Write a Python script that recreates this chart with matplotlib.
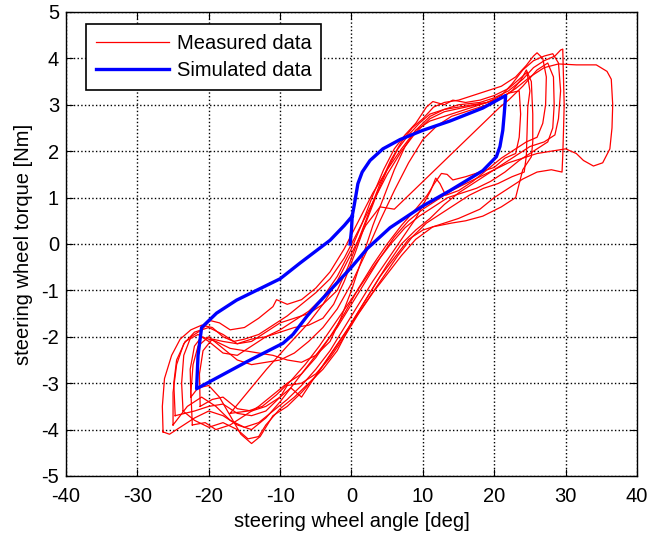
import numpy as np
import matplotlib.pyplot as plt

plt.rcParams['font.family'] = ['Liberation Sans', 'DejaVu Sans']
plt.rcParams['axes.unicode_minus'] = False

# measured data: several recorded steering cycles (angle [deg], torque [Nm])
loop1_x = [-26.4, -26.5, -26.2, -25.2, -24.0, -22.5, -21.0, -19.5, -18.0, -16.5, -15.0, -13.0, -11.0, -9.0,
           -7.0, -5.0, -3.0, -1.0, 1.0, 3.0, 5.0, 7.0, 9.0, 11.0, 13.0, 16.0, 19.0, 21.0, 23.0, 25.0, 27.0,
           29.0, 31.5, 34.3, 35.8, 36.4, 36.6, 36.5, 36.2, 35.2, 33.9, 32.5, 31.5, 30.0, 28.0, 26.0, 24.0,
           22.0, 20.0, 18.0, 16.0, 14.0, 12.0, 10.0, 8.0, 6.0, 4.0, 2.0, 0.0, -2.0, -4.0, -6.0, -8.0, -10.0,
           -12.0, -14.0, -16.0, -18.0, -20.0, -22.0, -24.0, -25.5, -26.4]
loop1_y = [-4.05, -3.5, -2.9, -2.4, -2.05, -1.85, -1.75, -1.8, -2.0, -2.1, -2.05, -1.95, -1.75, -1.55,
           -1.3, -1.05, -0.75, -0.3, 0.3, 0.9, 1.5, 2.0, 2.4, 2.7, 2.85, 2.95, 3.05, 3.15, 3.35, 3.6, 3.8,
           3.88, 3.86, 3.86, 3.72, 3.55, 3.0, 2.5, 2.05, 1.75, 1.68, 1.8, 1.95, 2.05, 2.0, 1.95, 1.85,
           1.75, 1.6, 1.45, 1.3, 1.15, 0.95, 0.75, 0.5, 0.15, -0.3, -0.8, -1.3, -1.8, -2.2, -2.6, -3.0, -3.4,
           -3.75, -4.0, -3.9, -3.7, -3.6, -3.75, -3.95, -4.1, -4.05]

loop2_x = [-23.6, -23.8, -23.5, -22.5, -21.0, -19.8, -18.5, -17.0, -15.0, -13.0, -11.0, -10.5, -9.0, -7.0,
           -5.0, -3.0, -1.0, 1.0, 3.0, 5.0, 7.0, 9.0, 11.0, 13.0, 15.0, 18.0, 20.0, 22.0, 24.0, 25.5, 27.0,
           28.5, 29.3, 29.6, 29.7, 29.8, 29.7, 29.6, 29.5, 28.0, 26.0, 24.0, 22.0, 20.0, 18.0, 15.0, 12.0,
           10.0, 8.0, 6.0, 4.0, 2.0, 0.0, -2.0, -4.0, -6.0, -8.0, -10.0, -12.0, -13.0, -14.5, -16.0, -18.0,
           -20.0, -22.0, -23.6]
loop2_y = [-3.6, -3.0, -2.4, -2.0, -1.85, -1.65, -1.7, -1.85, -1.8, -1.6, -1.35, -1.2, -1.3, -1.2,
           -0.95, -0.6, -0.1, 0.5, 1.1, 1.6, 2.05, 2.45, 2.75, 2.9, 3.0, 3.05, 3.15, 3.3, 3.55, 3.8, 3.95,
           4.05, 4.18, 4.2, 3.6, 3.0, 2.4, 1.9, 1.55, 1.6, 1.55, 1.4, 1.2, 1.0, 0.75, 0.55, 0.4,
           0.3, 0.1, -0.3, -0.7, -1.2, -1.7, -2.3, -2.7, -3.0, -3.3, -3.55, -3.9, -4.15, -4.2, -4.0, -3.85,
           -3.95, -3.8, -3.6]

loop3_x = [-25.0, -25.0, -24.5, -23.5, -22.0, -20.0, -18.0, -16.0, -14.0, -12.0, -10.0, -8.0, -6.0, -4.0,
           -2.0, -0.5, 1.0, 2.5, 4.0, 5.5, 7.0, 8.5, 10.0, 11.5, 13.0, 15.0, 17.0, 19.0, 21.0, 23.0, 24.5,
           25.5, 26.0, 26.8, 27.3, 27.2, 26.8, 26.0, 24.5, 23.0, 21.0, 19.0, 17.0, 15.0, 13.2, 12.4, 11.8,
           11.1, 9.0, 7.0, 5.0, 3.0, 1.0, -1.0, -3.0, -5.0, -7.0, -9.0, -11.0, -13.0, -15.0, -17.0, -19.0,
           -21.0, -23.0, -25.0]
loop3_y = [-3.9, -3.2, -2.6, -2.15, -1.9, -1.8, -1.95, -2.15, -2.1, -1.9, -1.7, -1.6, -1.5, -1.3,
           -1.0, -0.5, 0.1, 0.7, 1.3, 1.8, 2.2, 2.5, 2.7, 2.95, 3.05, 3.1, 3.2, 3.3, 3.4, 3.6, 3.85,
           4.05, 4.12, 4.0, 3.6, 3.0, 2.6, 2.3, 2.2, 2.05, 1.85, 1.6, 1.35, 1.15, 1.05, 1.3, 1.42,
           1.15, 0.55, 0.1, -0.35, -0.8, -1.3, -1.8, -2.3, -2.7, -3.05, -3.35, -3.6, -3.85, -3.95, -3.8, -3.5,
           -3.3, -3.5, -3.9]

loop4_x = [-22.5, -22.6, -22.0, -21.0, -19.0, -17.0, -15.0, -13.0, -11.0, -9.0, -7.0, -5.0, -3.0, -1.5,
           0.0, 1.5, 3.0, 4.5, 6.0, 7.5, 9.0, 11.0, 13.0, 15.0, 17.0, 19.0, 21.0, 22.5, 24.0, 25.5, 27.0,
           28.2, 29.0, 29.3, 29.0, 28.5, 27.0, 25.0, 23.0, 21.0, 19.0, 17.0, 15.0, 13.0, 11.0, 9.0, 7.0,
           5.0, 3.0, 1.0, -1.0, -3.0, -5.0, -7.0, -9.0, -11.0, -12.8, -14.0, -15.5, -17.0, -18.5, -20.0,
           -21.5, -22.5]
loop4_y = [-3.3, -2.7, -2.2, -2.0, -2.1, -2.25, -2.3, -2.35, -2.4, -2.5, -2.55, -2.4, -2.1, -1.6,
           -1.0, -0.3, 0.4, 1.0, 1.6, 2.1, 2.45, 2.65, 2.75, 2.85, 2.95, 3.05, 3.2, 3.45, 3.75, 3.95, 4.05,
           4.1, 3.9, 3.3, 2.7, 2.35, 2.2, 2.1, 1.9, 1.7, 1.5, 1.3, 1.1, 0.85, 0.55, 0.3, 0.0,
           -0.45, -0.95, -1.45, -1.95, -2.4, -2.85, -3.2, -3.5, -3.7, -4.15, -4.3, -4.1, -3.7, -3.3, -3.05,
           -3.1, -3.3]

loop5_x = [-21.2, -21.3, -20.8, -19.5, -18.0, -16.0, -14.0, -12.0, -10.0, -8.0, -6.0, -4.0, -2.5, -1.0,
           0.5, 2.0, 3.5, 5.0, 6.5, 8.0, 9.5, 11.0, 13.0, 15.0, 17.0, 19.0, 21.0, 22.5, 23.8, 24.5, 25.2,
           25.4, 25.4, 25.2, 24.0, 23.0, 21.0, 18.4, 16.0, 14.0, 11.4, 9.0, 7.0, 5.0, 3.0, 1.0, -1.0,
           -3.0, -5.0, -7.0, -9.0, -10.0, -12.0, -14.0, -16.0, -18.0, -19.5, -21.2]
loop5_y = [-3.5, -2.8, -2.3, -2.05, -2.1, -2.15, -2.05, -2.0, -1.9, -1.8, -1.75, -1.6, -1.3, -0.8,
           -0.2, 0.45, 1.05, 1.6, 2.05, 2.35, 2.6, 2.8, 2.9, 2.95, 3.0, 3.05, 3.15, 3.3, 3.55, 3.75, 3.5,
           2.8, 2.2, 1.88, 1.6, 1.0, 0.8, 0.6, 0.5, 0.45, 0.37, 0.1, -0.25, -0.65, -1.05, -1.5, -2.0,
           -2.45, -2.8, -3.0, -3.05, -3.3, -3.5, -3.6, -3.55, -3.3, -3.35, -3.5]

loop6_x = [-24.7, -24.9, -24.5, -23.3, -21.5, -20.0, -18.0, -16.0, -14.0, -12.0, -10.0, -8.0, -6.0, -4.0,
           -2.0, 0.0, 1.5, 3.0, 4.5, 6.0, 7.5, 9.0, 10.5, 11.4, 13.0, 14.2, 16.0, 18.0, 20.0, 22.0, 23.5,
           24.6, 25.0, 24.7, 24.6, 24.5, 24.2, 22.5, 20.5, 18.5, 16.5, 14.5, 12.5, 10.5, 8.5, 6.5, 4.5,
           2.5, 0.5, -1.5, -3.5, -5.5, -7.0, -8.5, -10.0, -12.0, -14.0, -16.0, -18.0, -20.0, -22.0, -24.7]
loop6_y = [-3.7, -3.0, -2.5, -2.1, -1.95, -2.1, -2.35, -2.4, -2.2, -2.0, -1.85, -1.65, -1.45, -1.15,
           -0.7, -0.1, 0.45, 1.05, 1.6, 2.05, 2.35, 2.6, 2.95, 3.07, 3.0, 3.1, 3.05, 3.1, 3.2, 3.35, 3.55,
           3.7, 3.3, 2.95, 2.4, 1.9, 1.55, 1.45, 1.3, 1.2, 1.05, 0.85, 0.65, 0.45, 0.15, -0.25, -0.7,
           -1.15, -1.6, -2.05, -2.5, -2.95, -3.3, -3.1, -3.3, -3.6, -3.7, -3.65, -3.45, -3.5, -3.6, -3.7]

loop7_x = [-17.0, -11.9, -9.0, -6.0, -4.0, -2.0, 0.0, 2.0, 4.0, 6.0, 20.8, 22.0, 24.0, 26.0, 27.5, 28.3,
           28.4, 28.2, 27.5, 25.5, 23.5, 21.5, 19.5, 17.5, 15.5, 13.5, 11.5, 9.5, 7.5, 5.5, 3.5, 1.5,
           -0.5, -2.5, -4.5, -6.5, -8.5, -10.5, -12.5, -14.5, -17.0]
loop7_y = [-3.65, -2.7, -2.2, -1.7, -1.3, -0.8, -0.2, 0.4, 0.8, 0.75, 2.95, 3.1, 3.4, 3.75, 3.9, 3.6,
           3.0, 2.5, 2.2, 2.0, 1.8, 1.55, 1.35, 1.2, 1.1, 1.0, 0.8, 0.6, 0.35, 0.0, -0.4, -0.85,
           -1.3, -1.75, -2.2, -2.6, -2.95, -3.25, -3.5, -3.6, -3.65]

loop8_x = [-22.3, -22.5, -22.2, -21.5, -20.0, -18.0, -16.0, -14.0, -12.0, -10.0, -8.0, -6.0, -4.0, -2.0,
           0.0, 2.0, 4.0, 6.0, 8.0, 10.0, 12.0, 14.0, 16.0, 18.0, 20.0, 22.0, 23.5, 23.7, 23.5, 23.0, 21.5,
           20.0, 18.0, 16.0, 14.2, 13.4, 12.6, 11.6, 10.6, 9.0, 7.0, 5.0, 3.0, 1.0, -1.0, -3.0, -5.0, -7.0,
           -9.0, -11.0, -13.0, -15.0, -17.0, -19.0, -20.5, -22.3]
loop8_y = [-3.9, -3.2, -2.6, -2.2, -2.0, -2.25, -2.5, -2.6, -2.55, -2.5, -2.35, -2.1, -1.8, -1.4,
           -0.85, -0.2, 0.5, 1.15, 1.75, 2.25, 2.55, 2.75, 2.85, 2.95, 3.05, 3.25, 3.3, 2.8, 2.3, 1.95, 1.85,
           1.65, 1.55, 1.45, 1.38, 1.5, 1.52, 1.3, 1.05, 0.75, 0.4, 0.0, -0.45, -0.95, -1.5, -2.0, -2.45, -2.8,
           -3.0, -3.25, -3.5, -3.7, -3.9, -4.0, -3.85, -3.9]

meas_x = [loop1_x, loop2_x, loop3_x, loop4_x, loop5_x, loop6_x, loop7_x, loop8_x]
meas_y = [loop1_y, loop2_y, loop3_y, loop4_y, loop5_y, loop6_y, loop7_y, loop8_y]

# simulated data: one hysteresis cycle starting from rest
sim_x = [-0.2, 0.0, 0.1, 0.4, 0.9, 1.5, 2.6, 4.4, 6.8, 10.0, 13.8, 18.4, 21.6, 21.4, 21.2, 20.8, 20.3,
         18.4, 13.8, 10.0, 5.4, 2.2, 0.0, -3.0, -4.8, -6.2, -8.2, -9.6, -14.7, -21.7, -21.5, -21.0, -18.9,
         -16.1, -10.0, -7.2, -3.0, -1.0, 0.1]
sim_y = [0.0, 0.3, 0.6, 0.85, 1.3, 1.55, 1.8, 2.05, 2.25, 2.45, 2.65, 2.93, 3.2, 2.8, 2.45, 2.1, 1.88,
         1.58, 1.15, 0.82, 0.35, -0.1, -0.5, -1.0, -1.3, -1.55, -1.95, -2.14, -2.54, -3.12, -2.4, -1.8, -1.49,
         -1.21, -0.75, -0.41, 0.08, 0.4, 0.6]

fig = plt.figure(figsize=(6.47, 5.37), dpi=100)
ax = fig.add_axes([0.102, 0.1136, 0.8825, 0.8641])

for i in range(len(meas_x)):
    lab = 'Measured data' if i == 0 else None
    ax.plot(meas_x[i], meas_y[i], color='red', linewidth=0.9, label=lab)

ax.plot(sim_x, sim_y, color='blue', linewidth=2.4, label='Simulated data')

ax.set_xlim(-40, 40)
ax.set_ylim(-5, 5)
ax.set_xticks(np.arange(-40, 41, 10))
ax.set_yticks(np.arange(-5, 6, 1))
ax.tick_params(direction='in', top=True, right=True, labelsize=14.5, length=5)
ax.tick_params(axis='x', pad=8)
ax.tick_params(axis='y', pad=5)
ax.grid(True, linestyle=':', color='black', linewidth=1.0)
for s in ax.spines.values():
    s.set_linewidth(1.0)

ax.set_xlabel('steering wheel angle [deg]', fontsize=14.5, labelpad=4)
ax.set_ylabel('steering wheel torque [Nm]', fontsize=14.5, labelpad=6)

leg = ax.legend(loc='upper left', bbox_to_anchor=(0.035, 0.974), borderaxespad=0,
                fancybox=False, edgecolor='black', framealpha=1, fontsize=14.5,
                handlelength=3.6, handletextpad=0.4, borderpad=0.5, labelspacing=0.4)
leg.get_frame().set_linewidth(1.2)

plt.savefig('out.png', dpi=100)
